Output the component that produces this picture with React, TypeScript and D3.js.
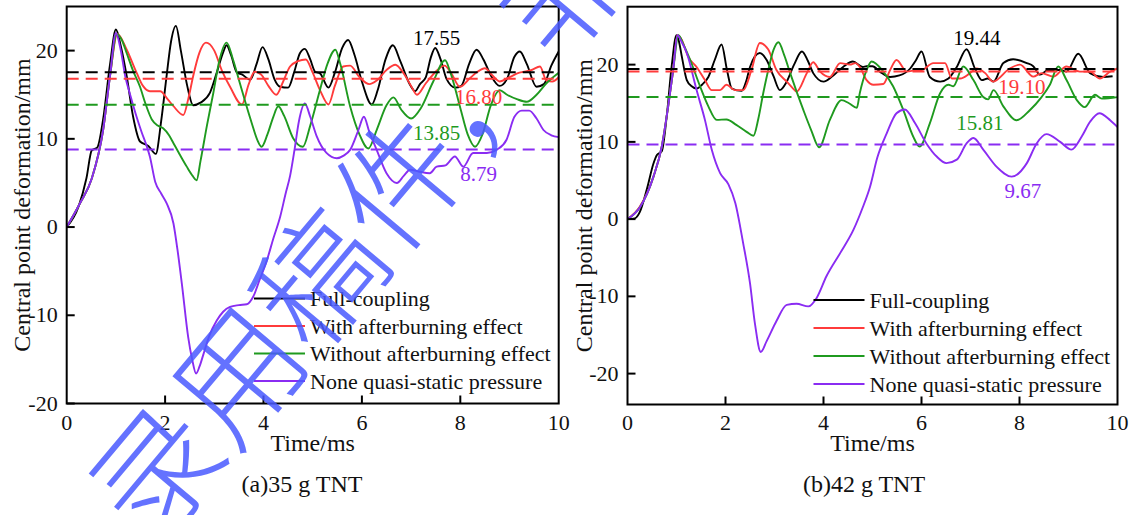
import React from 'react';
import * as d3 from 'd3';

type P = [number, number];

// ---------------- DATA ----------------
const xTicks = [0, 2, 4, 6, 8, 10];
const yTicks = [-20, -10, 0, 10, 20];
const seriesNames = [
  'Full-coupling',
  'With afterburning effect',
  'Without afterburning effect',
  'None quasi-static pressure',
];
const captions = ['(a)35 g TNT', '(b)42 g TNT'];
const meanA = [17.55, 16.8, 13.85, 8.79];
const meanB = [19.44, 19.1, 15.81, 9.67];
const meanLabelA = ['17.55', '16.80', '13.85', '8.79'];
const meanLabelB = ['19.44', '19.10', '15.81', '9.67'];

// (a) 35 g TNT
const fullA: P[] = [[0,0],[0.24,2.3],[0.4,5.5],[0.51,8.7],[0.62,9.0],[0.74,12.2],[0.88,18.4],[1.0,22.4],[1.1,20.5],[1.22,17.1],[1.35,12.5],[1.49,9.7],[1.66,9.2],[1.81,8.3],[1.92,12],[2.03,17.1],[2.12,21],[2.22,22.8],[2.32,20],[2.45,16],[2.57,13.8],[2.72,14.1],[2.91,15.2],[3.05,17.5],[3.18,19.8],[3.25,20.6],[3.34,19.5],[3.46,17.5],[3.56,17.3],[3.73,16.7],[3.86,18.5],[3.98,20.4],[4.1,19],[4.22,16.8],[4.34,15.9],[4.5,15.8],[4.62,17.5],[4.74,19.7],[4.84,20.2],[4.95,19],[5.05,17.6],[5.15,17.4],[5.32,15.8],[5.45,17.5],[5.6,20.3],[5.72,21.2],[5.85,19.5],[6.0,16.5],[6.2,13.9],[6.32,15.5],[6.48,19],[6.63,20.6],[6.78,18.8],[6.98,16.1],[7.08,15.4],[7.18,16.2],[7.3,17],[7.4,19.2],[7.49,20.3],[7.6,19],[7.72,16.8],[7.9,15.8],[8.02,16],[8.18,18.5],[8.33,20.1],[8.47,19],[8.62,17.2],[8.8,16],[8.95,16.8],[9.1,19.3],[9.21,19.9],[9.35,18.5],[9.55,15.9],[9.7,16.2],[9.85,18.3],[10,19.9]];
const withA: P[] = [[0,0],[0.27,2.7],[0.51,5.5],[0.74,11],[0.88,17.1],[1.03,21.9],[1.22,20.1],[1.42,17.5],[1.55,16],[1.69,15.4],[1.9,15.4],[2.05,14.5],[2.17,13.7],[2.37,12.7],[2.47,14.5],[2.57,17.1],[2.7,19.8],[2.83,20.9],[3.0,20],[3.15,17.8],[3.32,15.9],[3.56,13.9],[3.7,16.2],[3.82,17.6],[3.95,17.3],[4.1,16],[4.26,15],[4.4,16.5],[4.54,18.2],[4.7,18.8],[4.86,19],[5.0,17.5],[5.15,15.5],[5.32,13.9],[5.45,16],[5.62,18.2],[5.76,18.3],[5.95,17],[6.15,16.2],[6.3,16.6],[6.5,17.8],[6.68,18.4],[6.85,17.4],[7.0,16.0],[7.12,15],[7.3,16.3],[7.5,17.6],[7.68,18.3],[7.82,17.4],[7.99,15.9],[8.2,16.9],[8.35,17.6],[8.5,18],[8.65,17.2],[8.8,16.5],[9.0,17],[9.2,17.5],[9.45,17.8],[9.62,18.2],[9.75,16.6],[9.87,16.5],[10,17]];
const withoutA: P[] = [[0,0],[0.27,2.7],[0.51,5.5],[0.74,11],[0.88,17.1],[1.02,21.9],[1.12,21.2],[1.22,19.7],[1.35,17.7],[1.49,15.9],[1.6,14],[1.73,12.2],[1.85,11.5],[1.96,11.2],[2.08,10.4],[2.17,9.5],[2.3,8.2],[2.44,6.85],[2.56,5.8],[2.64,5.3],[2.72,7.5],[2.85,11.5],[2.98,15.2],[3.1,18.8],[3.25,20.9],[3.38,19],[3.52,16.3],[3.65,13.8],[3.76,11.8],[3.88,9.8],[3.96,9.1],[4.08,10.5],[4.2,12.5],[4.3,13.7],[4.42,12.6],[4.6,10.1],[4.8,9.1],[4.95,11.5],[5.15,15.6],[5.3,18.5],[5.46,20.1],[5.56,18.5],[5.76,13.7],[5.95,10.5],[6.13,8.9],[6.3,11],[6.5,13.8],[6.64,14.7],[6.8,13.3],[7.0,12.3],[7.2,13.5],[7.45,16.5],[7.69,18.9],[7.8,17.5],[8.0,13.5],[8.15,10.5],[8.3,9.1],[8.45,10.5],[8.62,13.8],[8.8,15.5],[8.95,15.0],[9.15,14.5],[9.35,14.2],[9.55,15.0],[9.75,16.3],[10,17.5]];
const noneA: P[] = [[0,0],[0.27,2.7],[0.51,5.5],[0.74,11],[0.88,17.1],[1.0,22],[1.1,20],[1.19,17.1],[1.3,14.8],[1.42,12.5],[1.52,10.8],[1.63,9.1],[1.69,8],[1.8,5.1],[1.92,3.8],[2.03,2.7],[2.17,0.4],[2.25,-2.5],[2.34,-6.4],[2.47,-12.5],[2.55,-15],[2.63,-16.6],[2.7,-15.8],[2.78,-14.4],[2.9,-12.3],[3.05,-10.6],[3.18,-9.6],[3.32,-9.05],[3.5,-8.85],[3.66,-8.75],[3.79,-7.9],[3.92,-6],[4.07,-3.75],[4.2,-1.3],[4.34,1.2],[4.45,3.8],[4.54,5.8],[4.63,8.75],[4.72,12],[4.84,14.0],[4.95,12.5],[5.08,10.3],[5.28,8.4],[5.49,7.8],[5.63,8.1],[5.76,8.75],[5.93,11],[6.04,12.5],[6.15,10.8],[6.3,8.75],[6.5,6.1],[6.71,5.0],[6.85,5.8],[6.98,6.5],[7.15,6.3],[7.38,6.1],[7.52,6.85],[7.7,7.0],[7.89,8.0],[8.06,6.85],[8.26,8.4],[8.54,8.4],[8.75,8.8],[8.94,9.9],[9.1,12.5],[9.25,13.2],[9.4,13.2],[9.55,12.3],[9.69,11],[9.85,10.4],[10,10.2]];

// (b) 42 g TNT
const fullB: P[] = [[0,0],[0.15,0.1],[0.25,0.9],[0.4,4],[0.53,7.2],[0.6,8.3],[0.7,8.8],[0.8,13.3],[0.9,19.7],[1.0,23.8],[1.05,23],[1.11,21],[1.21,18],[1.31,17.2],[1.41,16.9],[1.52,17.4],[1.65,18.4],[1.78,20.6],[1.92,22.6],[2.03,19.3],[2.13,16.9],[2.33,16.6],[2.42,17.8],[2.5,19.7],[2.7,21.5],[2.84,20.6],[2.98,18.5],[3.11,16.7],[3.25,17.8],[3.4,20],[3.56,21.7],[3.68,20.5],[3.79,18.9],[4.0,17.8],[4.2,18.6],[4.4,19.7],[4.6,20.4],[4.8,19.7],[4.88,19.8],[5.0,19.8],[5.15,19.1],[5.36,18.4],[5.55,18.6],[5.77,19.5],[5.88,20.5],[6.0,21.7],[6.17,18.4],[6.38,17.8],[6.55,18.2],[6.72,19.7],[6.92,22],[7.09,19.5],[7.23,18],[7.35,18.2],[7.47,17.8],[7.67,20.2],[7.87,20.7],[8.15,20.2],[8.28,19.8],[8.42,18.7],[8.58,19.3],[8.83,19.3],[8.96,19.1],[9.2,21.4],[9.44,18.9],[9.71,18.4],[9.9,18.5]];
const withB: P[] = [[0,0],[0.25,1.6],[0.53,5.5],[0.7,9.4],[0.83,14.6],[0.93,19.2],[1.02,23.8],[1.1,23.3],[1.24,21],[1.41,19.7],[1.58,18],[1.72,16.7],[1.89,16.7],[2.02,17.4],[2.19,16.7],[2.36,16.7],[2.53,19.3],[2.7,22.8],[2.87,22],[3.04,19.3],[3.25,17.8],[3.38,16.9],[3.45,16.5],[3.66,18.9],[3.79,20.3],[3.93,19.1],[4.13,18.4],[4.34,20.2],[4.54,20],[4.65,20.2],[4.74,19.7],[4.88,18.0],[5.02,17.4],[5.22,17.5],[5.36,19.3],[5.49,20.6],[5.7,19.1],[5.9,19.3],[6.0,19.3],[6.24,20.2],[6.48,20.2],[6.62,18.2],[6.79,18.2],[6.99,18.9],[7.12,19.5],[7.3,18.9],[7.46,17.8],[7.8,19.5],[8.01,20.0],[8.28,18.45],[8.45,18.9],[8.69,18.45],[8.96,19.75],[9.23,19.1],[9.44,19.1],[9.64,18.2],[9.85,19.1],[10,19.5]];
const withoutB: P[] = [[0,0],[0.26,1.6],[0.53,5.5],[0.7,9.4],[0.83,14.6],[0.93,19.2],[1.04,23.8],[1.15,22.5],[1.28,20.6],[1.48,17.2],[1.65,14.6],[1.82,12.85],[2.02,12.9],[2.22,12.2],[2.43,11.3],[2.57,10.8],[2.67,13],[2.77,16.3],[2.88,19.5],[2.98,21.9],[3.08,22.9],[3.2,21.2],[3.32,18.9],[3.59,14.1],[3.75,11.5],[3.91,9.3],[4.13,12.85],[4.37,15.4],[4.52,15.0],[4.68,14.4],[4.74,16.3],[4.88,19.3],[4.98,20.4],[5.22,19.1],[5.42,17.2],[5.63,14.1],[5.83,10.7],[5.96,9.4],[6.17,12.4],[6.38,16.3],[6.55,17.4],[6.65,17.2],[6.85,19.75],[7.06,18.0],[7.26,15.8],[7.36,15.5],[7.47,16.7],[7.67,14.6],[7.94,12.8],[8.21,14.1],[8.45,15.8],[8.62,17.4],[8.79,19.75],[8.96,18.0],[9.17,15.4],[9.33,14.5],[9.54,16.1],[9.68,15.6],[10,15.8]];
const noneB: P[] = [[0,0],[0.26,1.6],[0.53,5.5],[0.7,9.4],[0.83,14.6],[0.93,19.2],[1.02,23.8],[1.1,23],[1.21,21.5],[1.41,16.7],[1.58,12.85],[1.72,8.97],[1.89,5.95],[2.06,4.5],[2.2,2.1],[2.36,-3.1],[2.5,-8.3],[2.6,-13.5],[2.72,-17.2],[2.84,-15.8],[3.04,-13.2],[3.25,-11.1],[3.45,-10.96],[3.69,-11.3],[3.86,-10.2],[4.06,-7.4],[4.34,-4.4],[4.61,-1.4],[4.8,1.5],[4.95,4.2],[5.1,8],[5.29,11.1],[5.49,13.7],[5.66,14.2],[5.87,12.4],[6.1,9.8],[6.31,8.1],[6.51,7.25],[6.72,7.7],[6.92,9.8],[7.06,10.5],[7.26,9.0],[7.53,6.8],[7.84,5.5],[8.15,7.25],[8.35,9.8],[8.55,11.0],[8.83,10.0],[9.06,9.0],[9.27,10.7],[9.44,12.6],[9.63,13.7],[9.85,12.8],[10,11.9]];

const watermarkText = '录用稿件，非';

// ---------------- STYLE / LAYOUT ----------------
const colors = ['#000000', '#ff3b3b', '#1f9a1f', '#8a2cf2'];
const FONT = '"Liberation Serif", "Times New Roman", serif';

interface PanelCfg {
  x0: number; x1: number; yTop: number; yBot: number;
  yDomain: [number, number];
  series: P[][];
  means: number[];
  meanLabels: string[];
  labelX: number[];
  labelDy: number[];
  legendX: number; legendY: number; legendStep: number;
  yTitleX: number;
  caption: string; captionX: number;
}

const panels: PanelCfg[] = [
  {
    x0: 66.7, x1: 558.7, yTop: 6.5, yBot: 403.5, yDomain: [-20, 25],
    series: [fullA, withA, withoutA, noneA],
    means: meanA, meanLabels: meanLabelA,
    labelX: [7.52, 8.37, 7.52, 8.37], labelDy: [-27, 25.5, 35.5, 31],
    legendX: 254, legendY: 298.5, legendStep: 27.5,
    yTitleX: 22, caption: captions[0], captionX: 302,
  },
  {
    x0: 627.5, x1: 1117.5, yTop: 6.7, yBot: 404.5, yDomain: [-24, 27.5],
    series: [fullB, withB, withoutB, noneB],
    means: meanB, meanLabels: meanLabelB,
    labelX: [7.13, 8.05, 7.19, 8.07], labelDy: [-24, 22.6, 33, 54],
    legendX: 813.5, legendY: 300, legendStep: 28,
    yTitleX: 584, caption: captions[1], captionX: 864,
  },
];

function Panel({ cfg }: { cfg: PanelCfg }) {
  const x = d3.scaleLinear().domain([0, 10]).range([cfg.x0, cfg.x1]);
  const y = d3.scaleLinear().domain(cfg.yDomain).range([cfg.yBot, cfg.yTop]);
  const line = d3
    .line<P>()
    .x((d) => x(d[0]))
    .y((d) => y(d[1]))
    .curve(d3.curveMonotoneX);
  const clipId = `clip-${Math.round(cfg.x0)}`;
  const midY = (cfg.yTop + cfg.yBot) / 2;
  return (
    <g>
      <defs>
        <clipPath id={clipId}>
          <rect x={cfg.x0} y={cfg.yTop} width={cfg.x1 - cfg.x0} height={cfg.yBot - cfg.yTop} />
        </clipPath>
      </defs>
      <g clipPath={`url(#${clipId})`}>
        {cfg.series.map((s, i) => (
          <path key={i} d={line(s) || ''} fill="none" stroke={colors[i]} strokeWidth={1.9} strokeLinejoin="round" />
        ))}
        {cfg.means.map((m, i) => (
          <line key={i} x1={x(0)} x2={x(10)} y1={y(m)} y2={y(m)} stroke={colors[i]} strokeWidth={2} strokeDasharray="12,7" />
        ))}
      </g>
      {cfg.meanLabels.map((t, i) => (
        <text key={i} x={x(cfg.labelX[i])} y={y(cfg.means[i]) + cfg.labelDy[i]} fill={colors[i]} fontSize={21} textAnchor="middle" fontFamily={FONT}>
          {t}
        </text>
      ))}
      {/* frame */}
      <rect x={cfg.x0} y={cfg.yTop} width={cfg.x1 - cfg.x0} height={cfg.yBot - cfg.yTop} fill="none" stroke="#000" strokeWidth={2} />
      {/* x ticks */}
      {xTicks.map((t) => (
        <g key={t}>
          {t > 0 && t < 10 && <line x1={x(t)} x2={x(t)} y1={cfg.yBot} y2={cfg.yBot - 8} stroke="#000" strokeWidth={2} />}
          <text x={x(t)} y={430} fontSize={22} textAnchor="middle" fontFamily={FONT} fill="#111">{t}</text>
        </g>
      ))}
      {/* y ticks */}
      {yTicks.map((t) => (
        <g key={t}>
          <line x1={cfg.x0} x2={cfg.x0 + 8} y1={y(t)} y2={y(t)} stroke="#000" strokeWidth={2} />
          <text x={cfg.x0 - 9} y={y(t) + 7} fontSize={22} textAnchor="end" fontFamily={FONT} fill="#111">{t}</text>
        </g>
      ))}
      <text x={(cfg.x0 + cfg.x1) / 2} y={451} fontSize={24} textAnchor="middle" fontFamily={FONT} fill="#111">Time/ms</text>
      <text transform={`translate(${cfg.yTitleX},${midY}) rotate(-90)`} fontSize={24} textAnchor="middle" dominantBaseline="central" fontFamily={FONT} fill="#111">
        Central point deformation/mm
      </text>
      {/* legend */}
      {seriesNames.map((n, i) => {
        const ly = cfg.legendY + i * cfg.legendStep;
        return (
          <g key={n}>
            <line x1={cfg.legendX} x2={cfg.legendX + 51} y1={ly} y2={ly} stroke={colors[i]} strokeWidth={2} />
            <text x={cfg.legendX + 56} y={ly + 7.5} fontSize={22} fontFamily={FONT} fill="#111">{n}</text>
          </g>
        );
      })}
      <text x={cfg.captionX} y={492} fontSize={24} textAnchor="middle" fontFamily={FONT} fill="#111">{cfg.caption}</text>
    </g>
  );
}

export default function App() {
  return (
    <svg width={1136} height={515} style={{ position: 'absolute', left: 0, top: 0, background: '#fff' }}>
      <rect width={1136} height={515} fill="#fff" />
      {panels.map((p, i) => (
        <Panel key={i} cfg={p} />
      ))}
      <text
        transform="translate(152,550) rotate(-50)"
        fontSize={126}
        fontWeight={300}
        fontFamily='"Noto Sans CJK SC", sans-serif'
        fill="#4a5aff"
        opacity={0.85}
      >
        {watermarkText}
      </text>
    </svg>
  );
}
